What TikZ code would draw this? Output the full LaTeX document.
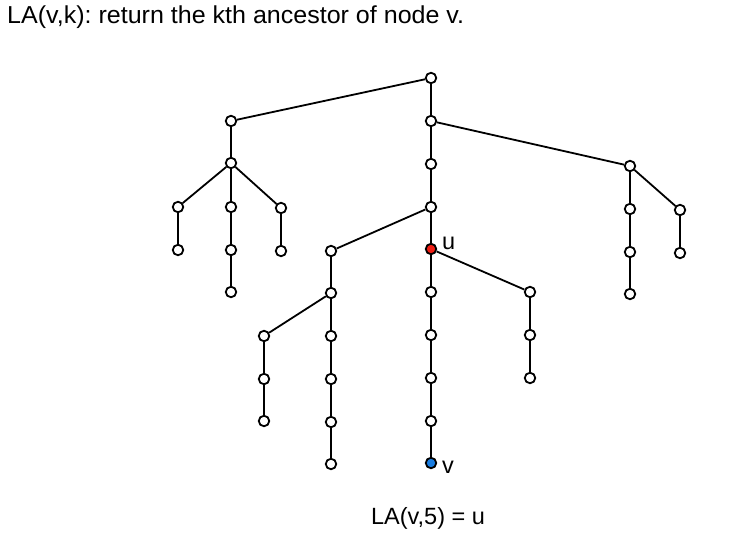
\documentclass[tikz,border=0pt]{standalone}
\usepackage{fontspec}
\setmainfont{Liberation Sans}
\definecolor{ured}{RGB}{240,30,20}
\definecolor{vblue}{RGB}{25,125,225}
\begin{document}
\frenchspacing
\begin{tikzpicture}[x=1pt,y=-1pt,
  vtx/.style={circle,draw=black,line width=1.8pt,fill=white,minimum size=10.5pt,inner sep=0pt},
  edge/.style={line width=1.8pt},
  lbl/.style={inner sep=0pt,font=\fontsize{23.5}{28}\selectfont}]
\useasboundingbox (0,0) rectangle (744,537);
\node[lbl,anchor=base west,font=\fontsize{24.5}{28}\selectfont] (title) at (7,24) {\scalebox{1.022}[1]{LA(v,k): return the kth ancestor of node v.}};
% nodes
\node[vtx] (r) at (431,78) {};
\node[vtx] (a) at (231,121) {};
\node[vtx] (a1) at (231,163) {};
\node[vtx] (a2) at (178,207) {};
\node[vtx] (a3) at (178,250) {};
\node[vtx] (a4) at (231,207) {};
\node[vtx] (a5) at (231,250) {};
\node[vtx] (a6) at (231,292) {};
\node[vtx] (a7) at (281,208) {};
\node[vtx] (a8) at (281,251) {};
\node[vtx] (m) at (431,121) {};
\node[vtx] (m1) at (431,164) {};
\node[vtx] (m2) at (431,207) {};
\node[vtx,fill=ured] (u) at (431,249) {};
\node[vtx] (u1) at (431,292) {};
\node[vtx] (u2) at (431,335) {};
\node[vtx] (u3) at (431,378) {};
\node[vtx] (u4) at (431,421) {};
\node[vtx,fill=vblue] (v) at (431,463) {};
\node[vtx] (w1) at (530,292) {};
\node[vtx] (w2) at (530,335) {};
\node[vtx] (w3) at (530,378) {};
\node[vtx] (b) at (331,251) {};
\node[vtx] (b1) at (331,293) {};
\node[vtx] (b2) at (264,336) {};
\node[vtx] (b3) at (264,379) {};
\node[vtx] (b4) at (264,421) {};
\node[vtx] (b5) at (331,336) {};
\node[vtx] (b6) at (331,379) {};
\node[vtx] (b7) at (331,422) {};
\node[vtx] (b8) at (331,464) {};
\node[vtx] (c) at (630,166) {};
\node[vtx] (c1) at (630,209) {};
\node[vtx] (c2) at (630,252) {};
\node[vtx] (c3) at (630,294) {};
\node[vtx] (c4) at (680,210) {};
\node[vtx] (c5) at (680,253) {};
% edges
\foreach \p/\q in {r/a,a/a1,a1/a2,a2/a3,a1/a4,a4/a5,a5/a6,a1/a7,a7/a8,
  r/m,m/m1,m1/m2,m2/u,u/u1,u1/u2,u2/u3,u3/u4,u4/v,u/w1,w1/w2,w2/w3,
  m2/b,b/b1,b1/b2,b2/b3,b3/b4,b1/b5,b5/b6,b6/b7,b7/b8,
  m/c,c/c1,c1/c2,c2/c3,c/c4,c4/c5}
  \draw[edge] (\p) -- (\q);
% labels
\node[lbl,anchor=base west] (ul) at (442,250) {u};
\node[lbl,anchor=base west] (vl) at (442,473) {v};
\node[lbl,anchor=base] (eq) at (428,524) {LA(v,5) = u};
\end{tikzpicture}
\end{document}
